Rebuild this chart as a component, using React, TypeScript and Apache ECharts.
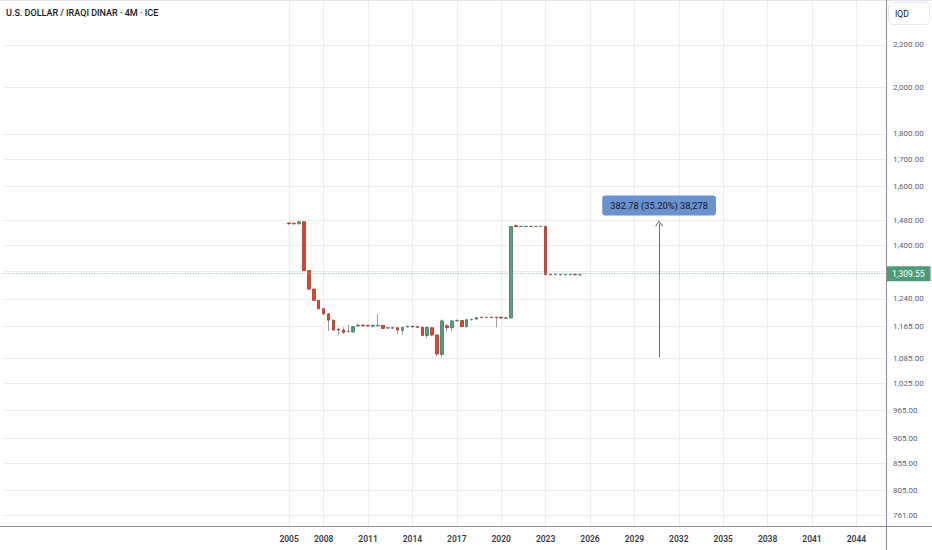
import React, { useEffect, useRef } from "react";
import * as echarts from "echarts";

// ---------- data ----------
const TITLE = "U.S. DOLLAR / IRAQI DINAR · 4M · ICE";
const CURRENCY = "IQD";
const FIRST_BAR_YEAR = 2005;
const FIRST_BAR_MONTH = 9; // first 4M bar: Sep 2005
const STEP_MONTHS = 4;
const PAD_BEFORE = 58; // empty 4M slots left of the first bar
const TOTAL_SLOTS = 180; // slots shown on the time scale

const opens = [
  1472, 1471, 1469, 1476, 1322, 1268, 1236, 1213, 1199, 1182,
  1158, 1156, 1152, 1151, 1167, 1169, 1168, 1166, 1167, 1168,
  1161, 1162, 1162, 1155, 1164, 1166, 1165, 1163, 1142, 1162,
  1143, 1094, 1167, 1162, 1180, 1181, 1165, 1183, 1185, 1190,
  1189, 1190, 1190, 1190, 1187, 1188, 1463, 1460, 1460, 1461,
  1460, 1460, 1461, 1311, 1309.5, 1309.5, 1309.5, 1309.5, 1310.5, 1309.2,
];
const closes = [
  1469, 1469, 1476, 1322, 1268, 1236, 1213, 1199, 1182, 1156,
  1156, 1150, 1153, 1165, 1169, 1167, 1167, 1168, 1168, 1160,
  1162, 1161, 1156, 1163, 1166, 1164, 1163, 1142, 1163, 1143,
  1095, 1180, 1162, 1180, 1181, 1165, 1183, 1184, 1189, 1189,
  1190, 1189, 1189, 1188, 1188, 1460, 1460, 1461, 1461, 1460,
  1461, 1461, 1310, 1309.5, 1310.5, 1310.5, 1310.5, 1310.5, 1309.5, 1309.55,
];
const lows = [
  1467, 1467, 1468, 1320, 1266, 1234, 1211, 1197, 1153, 1154,
  1142, 1146, 1150, 1149, 1166, 1166, 1164, 1163, 1165, 1158,
  1160, 1160, 1145, 1144, 1163, 1163, 1162, 1140, 1135, 1140,
  1090, 1086, 1152, 1152, 1179, 1163, 1163, 1182, 1184, 1187,
  1188, 1188, 1163, 1186, 1185, 1186, 1458, 1459, 1459, 1459,
  1459, 1459, 1308, 1308, 1308, 1308, 1308, 1308, 1308, 1308,
];
const highs = [
  1473, 1472, 1477, 1477, 1323, 1269, 1237, 1214, 1200, 1183,
  1161, 1163, 1169, 1166, 1172, 1170, 1170, 1171, 1198, 1169,
  1163, 1163, 1163, 1164, 1167, 1167, 1166, 1164, 1164, 1163,
  1145, 1184, 1172, 1182, 1184, 1182, 1186, 1186, 1190, 1191,
  1191, 1191, 1191, 1191, 1190, 1461, 1467, 1462, 1462, 1462,
  1462, 1462, 1462, 1312, 1312, 1312, 1312, 1312, 1312, 1312,
];

// grid lines (1,320 sits behind the last-price tag) and visible price labels
const gridTicks = [761, 805, 855, 905, 965, 1025, 1085, 1165, 1240, 1320, 1400, 1480, 1600, 1700, 1800, 2000, 2200];
const priceTicks = [761, 805, 855, 905, 965, 1025, 1085, 1165, 1240, 1400, 1480, 1600, 1700, 1800, 2000, 2200];
const yearTicks = [2005, 2008, 2011, 2014, 2017, 2020, 2023, 2026, 2029, 2032, 2035, 2038, 2041, 2044];
const lastPrice = 1309.55;
const measureFrom = 1087.44;
const measureTo = 1470.22;
const measureSlot = 133;
const yMin = 742.7;
const yMax = 2435;

// ---------- helpers ----------
const slotLabel = (k: number) => {
  const total = FIRST_BAR_YEAR * 12 + (FIRST_BAR_MONTH - 1) + (k - PAD_BEFORE) * STEP_MONTHS;
  const y = Math.floor(total / 12);
  const m = (total % 12) + 1;
  return `${y}-${m < 10 ? "0" + m : m}`;
};
const categories = Array.from({ length: TOTAL_SLOTS }, (_, k) => slotLabel(k));
const labelSet = new Set<string>(
  yearTicks.map((y, i) => (i === 0 ? slotLabel(PAD_BEFORE) : `${y}-01`))
);
const fmt = (v: number) =>
  v.toLocaleString("en-US", { minimumFractionDigits: 2, maximumFractionDigits: 2 });
const L = Math.log;

const FONT = "Roboto";

export default function App() {
  const ref = useRef<HTMLDivElement>(null);
  useEffect(() => {
    if (!ref.current) return;
    const chart = echarts.init(ref.current, undefined, { renderer: "svg" });

    const bodyData = opens.map((o, i) => [
      categories[PAD_BEFORE + i],
      L(o),
      L(closes[i]),
      L(Math.min(o, closes[i])),
      L(Math.max(o, closes[i])),
    ]);
    const wickData = opens.map((o, i) => [
      categories[PAD_BEFORE + i],
      L(o),
      L(closes[i]),
      L(lows[i]),
      L(highs[i]),
    ]);

    const diff = measureTo - measureFrom;
    const pct = (diff / measureFrom) * 100;
    const ticks = Math.round(diff * 100);
    const measureText = `${diff.toFixed(2)} (${pct.toFixed(2)}%) ${ticks.toLocaleString("en-US")}`;

    chart.setOption({
      animation: false,
      backgroundColor: "#ffffff",
      title: {
        text: TITLE,
        left: 6,
        top: 8,
        padding: 0,
        textStyle: { fontFamily: FONT, fontSize: 9, fontWeight: 500, color: "#131722" },
      },
      grid: { left: 3, right: 46, top: 0, bottom: 24, containLabel: false },
      xAxis: {
        type: "category",
        data: categories,
        boundaryGap: false,
        axisLine: { show: false },
        axisTick: { show: false },
        axisLabel: {
          interval: (_i: number, v: string) => labelSet.has(v),
          formatter: (v: string) => v.slice(0, 4),
          fontFamily: FONT,
          fontSize: 8.5,
          fontWeight: 600,
          color: "#363a45",
          margin: 8,
          hideOverlap: false,
        },
        splitLine: {
          show: true,
          interval: (_i: number, v: string) => labelSet.has(v),
          lineStyle: { color: "#ececec", width: 1 },
        },
      },
      yAxis: {
        type: "value",
        position: "right",
        min: L(yMin),
        max: L(yMax),
        scale: true,
        axisLine: { show: false },
        axisTick: { show: false, customValues: gridTicks.map((v) => L(v)) },
        axisLabel: {
          customValues: priceTicks.map((v) => L(v)),
          formatter: (v: number) => fmt(Math.exp(v)),
          fontFamily: FONT,
          fontSize: 8,
          color: "#5d606b",
          margin: 7,
          showMinLabel: true,
          showMaxLabel: true,
        },
        splitLine: { show: true, lineStyle: { color: "#ececec", width: 1 } },
      },
      graphic: [
        { type: "line", silent: true, z: 10, shape: { x1: 0, y1: 0.5, x2: 932, y2: 0.5 }, style: { stroke: "#e0e3eb", lineWidth: 1 } },
        { type: "line", silent: true, z: 10, shape: { x1: 886.5, y1: 0, x2: 886.5, y2: 550 }, style: { stroke: "#8b8e97", lineWidth: 1 } },
        { type: "line", silent: true, z: 10, shape: { x1: 0, y1: 526.5, x2: 932, y2: 526.5 }, style: { stroke: "#8b8e97", lineWidth: 1 } },
        { type: "rect", silent: true, z: 10, shape: { x: 888.5, y: 2.5, width: 41, height: 22, r: 4 }, style: { fill: "#ffffff", stroke: "#e6e8ee", lineWidth: 1 } },
        { type: "text", silent: true, z: 11, x: 895, y: 14, style: { text: CURRENCY, fontFamily: FONT, fontSize: 8.5, fill: "#131722", verticalAlign: "middle", align: "left" } },
      ],
      series: [
        {
          type: "candlestick",
          name: "wicks",
          z: 1,
          barWidth: 1,
          encode: { x: 0, y: [1, 2, 3, 4] },
          data: wickData,
          itemStyle: {
            color: "#9a9ca4",
            color0: "#9a9ca4",
            borderColor: "#9a9ca4",
            borderColor0: "#9a9ca4",
            borderWidth: 1,
          },
        },
        {
          type: "candlestick",
          name: "USDIQD",
          z: 2,
          barWidth: 3,
          encode: { x: 0, y: [1, 2, 3, 4] },
          data: bodyData,
          itemStyle: {
            color: "#5d9c7b",
            color0: "#e2462f",
            borderColor: "#3e7b5c",
            borderColor0: "#a9321f",
            borderWidth: 0.8,
          },
          markLine: {
            silent: true,
            symbol: ["none", "none"],
            animation: false,
            data: [
              {
                yAxis: L(lastPrice),
                lineStyle: { color: "#86c2a2", type: [1, 1.6], width: 1 },
                label: {
                  show: true,
                  position: "end",
                  formatter: fmt(lastPrice),
                  backgroundColor: "#4f9a76",
                  color: "#ffffff",
                  fontFamily: FONT,
                  fontSize: 8.5,
                  padding: [3, 6, 3, 6],
                  distance: 0,
                },
              },
              [
                {
                  coord: [categories[measureSlot], L(measureFrom)],
                  symbol: "none",
                  lineStyle: { color: "#6b6e78", type: "solid", width: 1 },
                  label: {
                    show: true,
                    position: "end",
                    formatter: measureText,
                    backgroundColor: "#6892d0",
                    color: "#131722",
                    fontFamily: FONT,
                    fontSize: 9.3,
                    padding: [6, 8, 5, 8],
                    borderRadius: 3,
                    distance: 8,
                  },
                },
                {
                  coord: [categories[measureSlot], L(measureTo)],
                  symbol: "path://M0,9 L5,0 L10,9 L8.8,9.7 L5,2.6 L1.2,9.7 Z",
                  symbolSize: [8, 6],
                },
              ],
            ],
          },
        },
      ],
    });
    return () => chart.dispose();
  }, []);
  return (
    <div
      ref={ref}
      style={{ position: "fixed", left: 0, top: 0, width: 932, height: 550, background: "#fff" }}
    />
  );
}
